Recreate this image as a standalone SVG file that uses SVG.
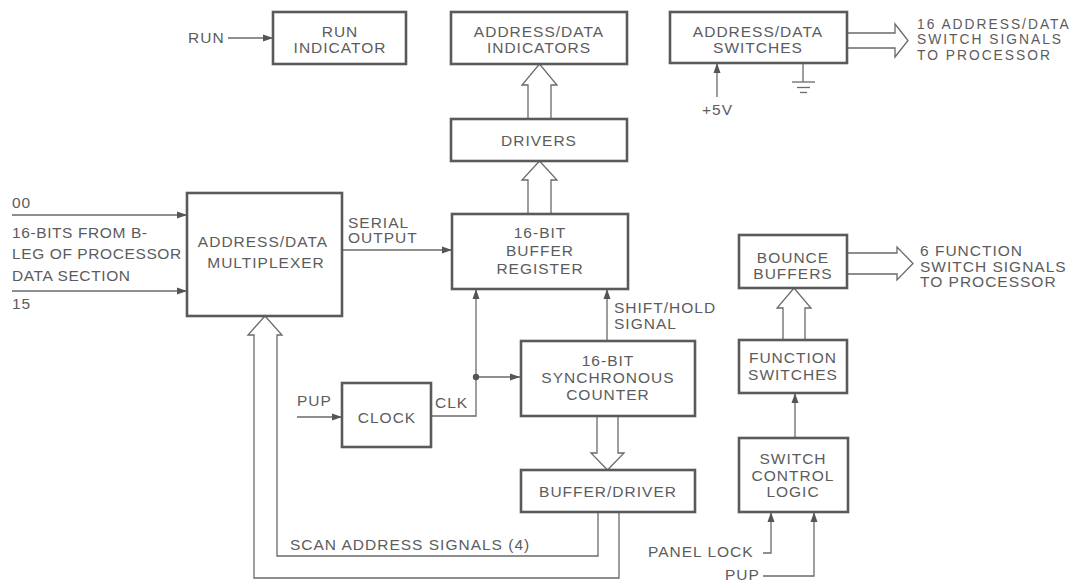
<svg xmlns="http://www.w3.org/2000/svg" width="1077" height="583" viewBox="0 0 1077 583">
<style>
text{font-family:"Liberation Sans",Arial,sans-serif;font-size:15.5px;letter-spacing:1px;fill:#5c5c5c}
.c{text-anchor:middle}
.sm{font-size:13.8px;letter-spacing:2px}
.lf{letter-spacing:0.6px}
.box{fill:#fff;stroke:#5a5a5a;stroke-width:2.6}
.ln{fill:none;stroke:#6a6a6a;stroke-width:1.3}
.ha{fill:#fff;stroke:#6a6a6a;stroke-width:1.3;stroke-linejoin:miter}
</style>
<defs>
<marker id="ah" viewBox="0 0 10 10" refX="10" refY="5" markerWidth="10" markerHeight="10" markerUnits="userSpaceOnUse" orient="auto">
<path d="M0,1.5 L10,5 L0,8.5 Z" fill="#555"/>
</marker>
</defs>
<rect width="1077" height="583" fill="#fff"/>

<g id="connectors">
<line class="ln" x1="228" y1="38" x2="273" y2="38" marker-end="url(#ah)"/>
<line class="ln" x1="12" y1="215" x2="187" y2="215" marker-end="url(#ah)"/>
<line class="ln" x1="12" y1="291" x2="187" y2="291" marker-end="url(#ah)"/>
<line class="ln" x1="342" y1="250" x2="452" y2="250" marker-end="url(#ah)"/>
<line class="ln" x1="297" y1="417" x2="342" y2="417" marker-end="url(#ah)"/>
<polyline class="ln" points="431,416 476,416 476,289" marker-end="url(#ah)"/>
<line class="ln" x1="476" y1="377" x2="520" y2="377" marker-end="url(#ah)"/>
<circle cx="476" cy="377" r="3.2" fill="#555"/>
<line class="ln" x1="607" y1="341" x2="607" y2="289" marker-end="url(#ah)"/>
<line class="ln" x1="717" y1="97" x2="717" y2="63" marker-end="url(#ah)"/>
<line class="ln" x1="803" y1="63" x2="803" y2="82"/>
<line class="ln" x1="792" y1="82" x2="815" y2="82"/>
<line class="ln" x1="797" y1="87.5" x2="810" y2="87.5"/>
<line class="ln" x1="800" y1="92.5" x2="807" y2="92.5"/>
<path class="ha" d="M528,214 V180 H522 L539.5,161 L557,180 H551 V214"/>
<path class="ha" d="M528,119 V85 H522 L539.5,64 L557,85 H551 V119"/>
<path class="ha" d="M847,33 H895 V24 L908,40.5 L895,57 V48 H847"/>
<path class="ha" d="M847,253 H897 V247 L913,263.5 L897,280 V274 H847"/>
<path class="ha" d="M783,340 V308 H777 L794,288 L811,308 H805 V340"/>
<path class="ha" d="M597,416 V453 H591 L607.5,470 L624,453 H618 V416"/>
<path class="ha" d="M598,512 V556 H277 V335 H282 L265,316 L248,335 H254 V578 H619 V512"/>
<line class="ln" x1="795" y1="438" x2="795" y2="393" marker-end="url(#ah)"/>
<polyline class="ln" points="763,553 771,553 771,512" marker-end="url(#ah)"/>
<polyline class="ln" points="763,576 814,576 814,512" marker-end="url(#ah)"/>
</g>

<g id="run-indicator">
<rect class="box" x="273" y="12" width="133" height="52"/>
<text class="c" x="340" y="37">RUN</text>
<text class="c" x="340" y="53">INDICATOR</text>
</g>
<g id="ad-indicators">
<rect class="box" x="451" y="12" width="176" height="52"/>
<text class="c" x="539" y="37">ADDRESS/DATA</text>
<text class="c" x="539" y="53">INDICATORS</text>
</g>
<g id="drivers">
<rect class="box" x="451" y="119" width="176" height="42"/>
<text class="c" x="539" y="146">DRIVERS</text>
</g>
<g id="ad-switches">
<rect class="box" x="670" y="12" width="177" height="51"/>
<text class="c" x="758" y="37">ADDRESS/DATA</text>
<text class="c" x="758" y="53">SWITCHES</text>
</g>
<g id="multiplexer">
<rect class="box" x="187" y="193" width="155" height="123"/>
<text class="c" x="263" y="247">ADDRESS/DATA</text>
<text class="c" x="266" y="268">MULTIPLEXER</text>
</g>
<g id="buffer-register">
<rect class="box" x="452" y="214" width="176" height="75"/>
<text class="c" x="540" y="238">16-BIT</text>
<text class="c" x="540" y="256">BUFFER</text>
<text class="c" x="540" y="274">REGISTER</text>
</g>
<g id="counter">
<rect class="box" x="521" y="341" width="174" height="75"/>
<text class="c" x="608" y="366">16-BIT</text>
<text class="c" x="608" y="383">SYNCHRONOUS</text>
<text class="c" x="608" y="400">COUNTER</text>
</g>
<g id="clock">
<rect class="box" x="342" y="383" width="89" height="64"/>
<text class="c" x="387" y="423">CLOCK</text>
</g>
<g id="buffer-driver">
<rect class="box" x="521" y="470" width="174" height="42"/>
<text class="c" x="608" y="497">BUFFER/DRIVER</text>
</g>
<g id="bounce-buffers">
<rect class="box" x="739" y="235" width="108" height="53"/>
<text class="c" x="793" y="263">BOUNCE</text>
<text class="c" x="793" y="279">BUFFERS</text>
</g>
<g id="function-switches">
<rect class="box" x="739" y="340" width="108" height="53"/>
<text class="c" x="793" y="363">FUNCTION</text>
<text class="c" x="793" y="380">SWITCHES</text>
</g>
<g id="switch-control">
<rect class="box" x="739" y="438" width="109" height="74"/>
<text class="c" x="793" y="464">SWITCH</text>
<text class="c" x="793" y="481">CONTROL</text>
<text class="c" x="793" y="497">LOGIC</text>
</g>

<g id="labels">
<text x="188" y="43">RUN</text>
<text class="sm" x="917" y="28.5">16 ADDRESS/DATA</text>
<text class="sm" x="917" y="44">SWITCH SIGNALS</text>
<text class="sm" x="917" y="59.5">TO PROCESSOR</text>
<text x="702" y="115">+5V</text>
<text x="12" y="208">00</text>
<text class="lf" x="12" y="238">16-BITS FROM B-</text>
<text class="lf" x="12" y="259">LEG OF PROCESSOR</text>
<text class="lf" x="12" y="281">DATA SECTION</text>
<text x="12" y="309">15</text>
<text x="348" y="228">SERIAL</text>
<text x="348" y="243">OUTPUT</text>
<text x="614" y="313">SHIFT/HOLD</text>
<text x="614" y="329">SIGNAL</text>
<text x="297" y="406">PUP</text>
<text x="435" y="408">CLK</text>
<text x="920" y="256">6 FUNCTION</text>
<text x="920" y="272">SWITCH SIGNALS</text>
<text x="920" y="287">TO PROCESSOR</text>
<text x="290" y="550">SCAN ADDRESS SIGNALS (4)</text>
<text x="648" y="557">PANEL LOCK</text>
<text x="725" y="580">PUP</text>
</g>
</svg>
